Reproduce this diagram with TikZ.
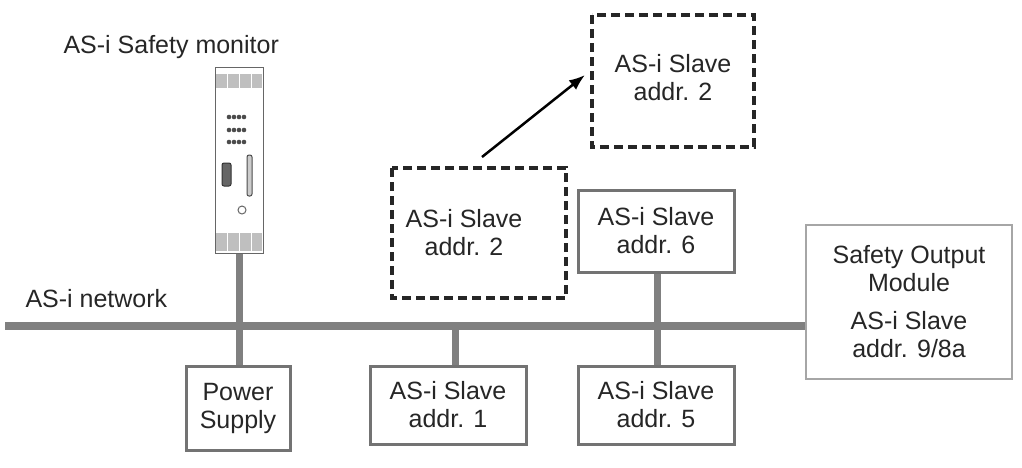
\documentclass[tikz,border=0pt]{standalone}
\usepackage{fontspec}
\setmainfont{Liberation Sans}
\usetikzlibrary{arrows.meta}
\begin{document}
\begin{tikzpicture}[x=1pt,y=-1pt,
  txt/.style={font=\fontsize{25}{28}\selectfont,align=center,text=black!85},
  box/.style={draw=black!55,line width=3pt,fill=white},
  dbox/.style={draw=black!85,line width=3.5pt,dash pattern=on 9pt off 5pt,fill=white},
  bus/.style={draw=black!50,line width=8pt}]
\useasboundingbox (0,0) rectangle (1022,467);
% bus and stems
\draw[bus] (5,326) -- (808,326);
\coordinate (m) at (239,253);
\coordinate (n1) at (455,326);
\draw[bus,line width=7pt] (m) -- (239,366);
\draw[bus,line width=7pt] (n1) -- (455,366);
\draw[bus,line width=7pt] (657,272) -- (657,366);
% boxes
\draw[box] (186,366) rectangle (290,450);
\node[txt] (ps) at (238,408) {Power\\Supply};
\draw[box] (370,366) rectangle (526,444);
\node[txt] (s1) at (448,405) {AS-i Slave\\addr. 1};
\draw[box] (578,366) rectangle (734,444);
\node[txt] (s5) at (656,405) {AS-i Slave\\addr. 5};
\draw[box] (578,190) rectangle (734,272);
\node[txt] (s6) at (656,231) {AS-i Slave\\addr. 6};
\draw[box,draw=black!35,line width=1.5pt] (806,225) rectangle (1012,379);
\node[txt] (so) at (909,302) {Safety Output\\Module\\[10pt]AS-i Slave\\addr. 9/8a};
\draw[dbox] (392,168) rectangle (566,298);
\node[txt] (s2a) at (464,233) {AS-i Slave\\addr. 2};
\draw[dbox] (592,15) rectangle (754,147);
\node[txt] (s2b) at (673,78) {AS-i Slave\\addr. 2};
\coordinate (a0) at (482,157);
\coordinate (a1) at (585,75);
\draw[line width=2.5pt,-{Latex[length=16pt,width=12pt]}] (a0) -- (a1);
% monitor
\node[txt,anchor=west] (lm) at (60,47) {AS-i Safety monitor};
\node[txt,anchor=west] (ln) at (22,299) {AS-i network};
\draw[black!60,line width=1pt,fill=white] (215,67) rectangle (263,253);
\fill[black!25] (216,74) rectangle (262,88);
\fill[black!25] (216,233) rectangle (262,251);
\foreach \x in {227,239,251}{\draw[white,line width=0.8pt] (\x,68)--(\x,90); \draw[white,line width=0.8pt] (\x,232)--(\x,252);}
\foreach \y in {117,130,142}{\foreach \x in {229,234,239,244}{\fill[black!70] (\x,\y) circle (2.3pt);}}
\draw[black!80,line width=1pt,fill=black!60,rounded corners=2pt] (222,163) rectangle (231,186);
\draw[black!70,line width=1pt,fill=black!20,rounded corners=2pt] (247,155) rectangle (252,196);
\draw[black!60,line width=1pt] (242,210) circle (4pt);
\end{tikzpicture}
\end{document}
